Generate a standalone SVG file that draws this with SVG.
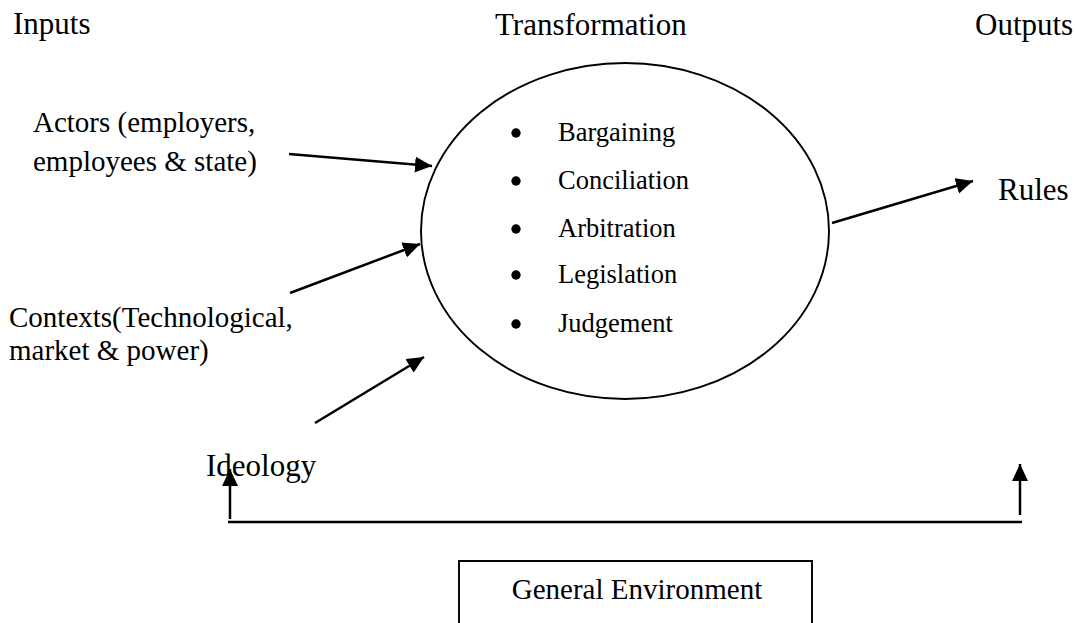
<svg xmlns="http://www.w3.org/2000/svg" width="1075" height="623" viewBox="0 0 1075 623">
  <style>
    text { font-family: "Liberation Serif", "Times New Roman", serif; fill: #000; }
    .head { font-size: 31px; }
    .lbl { font-size: 29px; }
    .item { font-size: 26.5px; }
    .conn { stroke: #000; stroke-width: 2.5; fill: none; }
    .shape { stroke: #000; stroke-width: 1.9; fill: #fff; }
  </style>
  <defs>
    <marker id="arrow" markerUnits="userSpaceOnUse" markerWidth="18" markerHeight="17" refX="17" refY="8" orient="auto">
      <path d="M0,0 L17,8 L0,16 z" fill="#000"/>
    </marker>
  </defs>

  <!-- column headings -->
  <g id="headings">
    <text class="head" x="13" y="34">Inputs</text>
    <text class="head" x="495" y="35">Transformation</text>
    <text class="head" x="975" y="35">Outputs</text>
  </g>

  <!-- transformation process -->
  <g id="transformation">
    <ellipse class="shape" cx="625" cy="231" rx="204" ry="168"/>
    <circle cx="516" cy="133" r="4.7"/>
    <text class="item" x="558" y="141">Bargaining</text>
    <circle cx="516" cy="181" r="4.7"/>
    <text class="item" x="558" y="189">Conciliation</text>
    <circle cx="516" cy="229" r="4.7"/>
    <text class="item" x="558" y="237">Arbitration</text>
    <circle cx="516" cy="275" r="4.7"/>
    <text class="item" x="558" y="283">Legislation</text>
    <circle cx="516" cy="324" r="4.7"/>
    <text class="item" x="558" y="332">Judgement</text>
  </g>

  <!-- inputs -->
  <g id="actors">
    <text class="lbl" x="33" y="132">Actors (employers,</text>
    <text class="lbl" x="33" y="171">employees &amp; state)</text>
  </g>
  <g id="contexts">
    <text class="lbl" x="9" y="327">Contexts(Technological,</text>
    <text class="lbl" x="9" y="360">market &amp; power)</text>
  </g>
  <g id="ideology">
    <text class="head" x="206" y="476">Ideology</text>
  </g>

  <!-- output -->
  <g id="rules">
    <text class="head" x="998" y="200">Rules</text>
  </g>

  <!-- general environment -->
  <g id="environment">
    <path class="shape" d="M459,623 V561 H812 V623"/>
    <text class="lbl" x="637" y="599" text-anchor="middle">General Environment</text>
  </g>

  <!-- connectors -->
  <g id="connectors">
    <line class="conn" x1="289" y1="154" x2="432" y2="166" marker-end="url(#arrow)"/>
    <line class="conn" x1="290" y1="293" x2="420" y2="244" marker-end="url(#arrow)"/>
    <line class="conn" x1="315" y1="423" x2="424" y2="357" marker-end="url(#arrow)"/>
    <line class="conn" x1="832" y1="223" x2="973" y2="181" marker-end="url(#arrow)"/>
    <line class="conn" x1="228" y1="522" x2="1022" y2="522"/>
    <line class="conn" x1="230" y1="519" x2="230" y2="469" marker-end="url(#arrow)"/>
    <line class="conn" x1="1020" y1="515" x2="1020" y2="464" marker-end="url(#arrow)"/>
  </g>
</svg>
